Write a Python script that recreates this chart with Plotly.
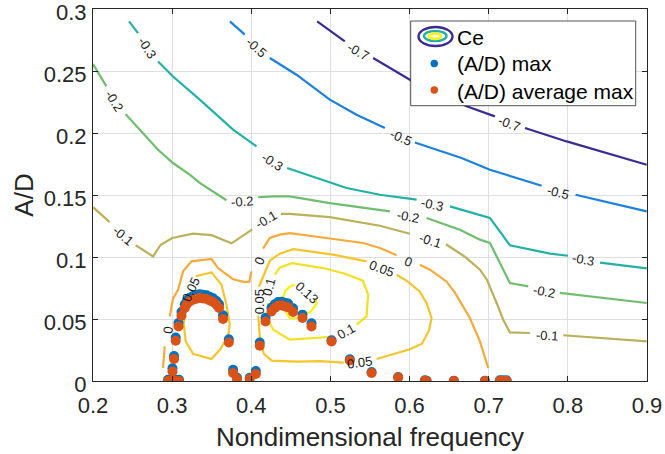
import plotly.graph_objects as go

# ---------------- data ----------------
x_ticks = [0.2, 0.3, 0.4, 0.5, 0.6, 0.7, 0.8, 0.9]
x_tick_labels = ["0.2", "0.3", "0.4", "0.5", "0.6", "0.7", "0.8", "0.9"]
y_ticks = [0, 0.05, 0.1, 0.15, 0.2, 0.25, 0.3]
y_tick_labels = ["0", "0.05", "0.1", "0.15", "0.2", "0.25", "0.3"]

# Ce contour lines (None = gap where the inline label sits)
ce_m07_x = [0.4832, 0.5182, None, 0.554, 0.6004, 0.672, 0.7078, None, 0.7458, 0.7985, 0.8996]
ce_m07_y = [0.29, 0.2739, None, 0.2605, 0.243, 0.2215, 0.2134, None, 0.204, 0.1932, 0.1744]

ce_m05_x = [0.373, 0.3918, None, 0.4234, 0.4571, 0.4992, 0.533, 0.5688, None, 0.6067, 0.6657, 0.7015, 0.7669, None, 0.8097, 0.853, 0.8996]
ce_m05_y = [0.29, 0.2793, None, 0.2605, 0.247, 0.2269, 0.2148, 0.204, None, 0.1924, 0.1798, 0.1704, 0.1575, None, 0.1502, 0.1435, 0.1368]

ce_m03_x = [0.2455, 0.2569, None, 0.2822, 0.3011, 0.3349, 0.377, 0.4066, None, 0.4453, 0.4824, 0.5204, 0.5625, 0.6089, None, 0.651, 0.6889, 0.7015, 0.7268, 0.7774, 0.8001, None, 0.8406, 0.8996]
ce_m03_y = [0.29, 0.2806, None, 0.2577, 0.2456, 0.2269, 0.2027, 0.1892, None, 0.1718, 0.1637, 0.1556, 0.1502, 0.1462, None, 0.1408, 0.1341, 0.1315, 0.1095, 0.1027, 0.101, None, 0.0954, 0.0908]

ce_m02_x = [0.2, 0.217, None, 0.2413, 0.2675, 0.2822, 0.3011, 0.3222, 0.3349, 0.3686, None, 0.4086, 0.4276, 0.4487, 0.4992, 0.5751, None, 0.6215, 0.6636, 0.6889, 0.7015, 0.7268, 0.75, None, 0.7899, 0.8447, 0.8996]
ce_m02_y = [0.2556, 0.2376, None, 0.2151, 0.1973, 0.1865, 0.1758, 0.1664, 0.1597, 0.1458, None, 0.1482, 0.1489, 0.1489, 0.1435, 0.1368, None, 0.1315, 0.122, 0.114, 0.1113, 0.079, 0.0763, None, 0.071, 0.0669, 0.0629]

ce_m01_x = [0.2, 0.2211, None, 0.254, 0.2759, 0.2856, 0.3001, 0.3264, 0.3497, 0.375, 0.4013, None, 0.4373, 0.4487, 0.4992, 0.5625, 0.6004, None, 0.6459, 0.6699, 0.6889, 0.6977, 0.7104, 0.7183, 0.7268, 0.752, None, 0.7942, 0.8447, 0.8996]
ce_m01_y = [0.1402, 0.1281, None, 0.1095, 0.1005, 0.1099, 0.1153, 0.1188, 0.1176, 0.111, 0.1223, None, 0.1348, 0.1347, 0.1321, 0.1252, 0.1188, None, 0.1103, 0.1002, 0.0898, 0.0817, 0.0623, 0.0494, 0.0392, 0.0387, None, 0.0369, 0.0347, 0.0319]

ce_0_x = [0.2885, 0.2906, None, 0.297, 0.3011, 0.3075, 0.3138, 0.3244, 0.3497, 0.358, 0.3686, 0.377, 0.3918, 0.3975, 0.4002, None, 0.4149, 0.4234, 0.436, 0.4487, 0.4992, 0.5413, 0.5625, 0.5836, None, 0.613, 0.6257, 0.6468, 0.6573, 0.6762, 0.6889, 0.6994]
ce_0_y = [0.0105, 0.0279, None, 0.0521, 0.0664, 0.0736, 0.0884, 0.0965, 0.0984, 0.0911, 0.0857, 0.0821, 0.0797, 0.0801, 0.0884, None, 0.1067, 0.1153, 0.118, 0.1192, 0.1149, 0.1113, 0.1073, 0.1015, None, 0.0938, 0.0898, 0.0801, 0.0712, 0.0508, 0.0319, 0.0105]

ce_005a_x = [0.3298, 0.3497, 0.3623, 0.3686, 0.3728, 0.3707, 0.3602, 0.3497, 0.3264, 0.3172, 0.3147, 0.3159, 0.3197]
ce_005a_y = [0.0845, 0.0876, 0.0777, 0.0615, 0.0462, 0.036, 0.0252, 0.0177, 0.022, 0.0317, 0.0454, 0.0575, 0.0672]

ce_005b_x = [0.4096, 0.4129, 0.4184, 0.4234, 0.436, 0.4528, 0.5034, 0.5456, None, 0.5836, 0.5979, 0.613, 0.6219, 0.6278, 0.6244, 0.6156, 0.6004, 0.5583, None, 0.5169, 0.4866, 0.4571, 0.4259, 0.4158, 0.4107, 0.4089]
ce_005b_y = [0.076, 0.0809, 0.0881, 0.097, 0.1027, 0.1063, 0.1019, 0.0965, None, 0.0857, 0.0801, 0.072, 0.0623, 0.0506, 0.0406, 0.0301, 0.0256, 0.0177, None, 0.0148, 0.016, 0.0156, 0.0164, 0.022, 0.0357, 0.0527]

ce_01_x = [0.4297, 0.436, 0.4512, 0.4908, 0.5182, 0.541, 0.5477, 0.5456, 0.533, None, 0.503, 0.4781, 0.4487, 0.4276, 0.4215, 0.4215]
ce_01_y = [0.0857, 0.0914, 0.095, 0.0911, 0.0865, 0.0809, 0.0696, 0.0521, 0.0454, None, 0.0357, 0.0345, 0.0333, 0.0414, 0.0494, 0.0631]

ce_013_x = [0.4809, 0.4824, 0.4752, 0.4613, 0.4487, 0.4392, 0.4402, 0.443, 0.4487, 0.455]
ce_013_y = [0.0664, 0.0623, 0.0559, 0.051, 0.0505, 0.0607, 0.0669, 0.0728, 0.076, 0.0777]

# inline contour labels
label_text = ["-0.7", "-0.7", "-0.5", "-0.5", "-0.5", "-0.3", "-0.3", "-0.3", "-0.3",
              "-0.2", "-0.2", "-0.2", "-0.2", "-0.1", "-0.1", "-0.1", "-0.1",
              "0", "0", "0", "0.05", "0.05", "0.05", "0.05", "0.1", "0.1", "0.13"]
label_x = [0.5348, 0.7256, 0.4063, 0.589, 0.7875, 0.268, 0.4259, 0.6288, 0.8191,
           0.2262, 0.3886, 0.5979, 0.7698, 0.2377, 0.419, 0.6257, 0.7732,
           0.2948, 0.4108, 0.5982, 0.3235, 0.4097, 0.5646, 0.5372, 0.4228, 0.5195, 0.4698]
label_y = [0.2656, 0.2075, 0.2688, 0.1966, 0.1523, 0.2688, 0.1767, 0.1424, 0.0978,
           0.226, 0.145, 0.1329, 0.072, 0.1172, 0.1301, 0.1131, 0.0365,
           0.0407, 0.097, 0.0965, 0.074, 0.0642, 0.0906, 0.0153, 0.076, 0.04, 0.071]
label_angle = [30, 20, 42, 24, 14, 57, 32, 12, 10,
               58, -4, 10, 10, 40, -30, 18, 3,
               -85, -70, 20, -65, -90, 20, -8, -75, -30, 42]

# (A/D) max and (A/D) average max
ad_avg_x = [0.2948, 0.3004, 0.3054, 0.3087, 0.3004, 0.3024, 0.3045, 0.308, 0.3118,
            0.316, 0.3188, 0.3222, 0.3264, 0.3307, 0.3349, 0.3391, 0.3434, 0.3475, 0.3517, 0.356, 0.3593,
            0.3643, 0.3716, 0.377, 0.382, 0.398, 0.4057, 0.4107, 0.418,
            0.4255, 0.4297, 0.4339, 0.4382, 0.4424, 0.4465, 0.4528, 0.4647, 0.4761,
            0.5014, 0.5245, 0.552, 0.5856, 0.6193, 0.6215, 0.656, 0.6952, 0.714, 0.718, 0.7226]
ad_avg_y = [0.0, 0.001, 0.0, 0.0, 0.0077, 0.0177, 0.0325, 0.044, 0.0527,
            0.0589, 0.0621, 0.0642, 0.0656, 0.0664, 0.0669, 0.0666, 0.0661, 0.065, 0.0637, 0.0615, 0.0589,
            0.05, 0.0311, 0.0065, 0.0016, 0.0016, 0.0056, 0.0285, 0.048,
            0.0561, 0.0589, 0.0607, 0.061, 0.0602, 0.0594, 0.0556, 0.0508, 0.044,
            0.0319, 0.0166, 0.0065, 0.0029, 0.0003, 0.0, 0.0, 0.0, 0.0, 0.0, 0.0]
ad_max_x = ad_avg_x
ad_max_y = [0.001, 0.002, 0.001, 0.001, 0.0102, 0.0202, 0.035, 0.0468, 0.0557,
            0.0619, 0.0651, 0.0672, 0.0686, 0.0694, 0.0699, 0.0696, 0.0691, 0.068, 0.0667, 0.0645, 0.0619,
            0.053, 0.0336, 0.009, 0.0026, 0.0026, 0.0081, 0.031, 0.051,
            0.0591, 0.0619, 0.0637, 0.064, 0.0632, 0.0624, 0.0586, 0.0535, 0.0465,
            0.0329, 0.0176, 0.0072, 0.0032, 0.0006, 0.0003, 0.0003, 0.0003, 0.0006, 0.0006, 0.0006]

# ---------------- figure ----------------
FONT = "Liberation Sans, Arial, Helvetica, sans-serif"
contours = [
    (ce_m07_x, ce_m07_y, "#3a2c94"),
    (ce_m05_x, ce_m05_y, "#1b80de"),
    (ce_m03_x, ce_m03_y, "#22b1a6"),
    (ce_m02_x, ce_m02_y, "#6fbe6e"),
    (ce_m01_x, ce_m01_y, "#bbb15a"),
    (ce_0_x, ce_0_y, "#f6aa3a"),
    (ce_005a_x, ce_005a_y, "#f5c52b"),
    (ce_005b_x, ce_005b_y, "#f5c52b"),
    (ce_01_x, ce_01_y, "#f2e024"),
    (ce_013_x, ce_013_y, "#f7f30f"),
]

fig = go.Figure()
for i, (cx, cy, col) in enumerate(contours):
    fig.add_trace(go.Scatter(x=cx, y=cy, mode="lines", name="Ce", legendgroup="Ce",
                             showlegend=False, connectgaps=False,
                             line=dict(color=col, width=2.2), hoverinfo="skip"))

fig.add_trace(go.Scatter(x=ad_max_x, y=ad_max_y, mode="markers", name="(A/D) max",
                         showlegend=False,
                         marker=dict(symbol="circle", size=10, color="#0072bd", line=dict(width=0))))
fig.add_trace(go.Scatter(x=ad_avg_x, y=ad_avg_y, mode="markers", name="(A/D) average max",
                         showlegend=False,
                         marker=dict(symbol="circle", size=10, color="#d95319", line=dict(width=0))))

for t, lx, ly, ang in zip(label_text, label_x, label_y, label_angle):
    fig.add_annotation(x=lx, y=ly, text=t, textangle=ang, showarrow=False,
                       font=dict(family=FONT, size=13, color="#1a1a1a"))

# ---- manual legend (MATLAB style) ----
L, T, W, H = 93.0, 9.0, 554.0, 372.0
def px(x):
    return (x - L) / W
def py(y):
    return (T + H - y) / H

shapes = []
shapes.append(dict(type="rect", xref="paper", yref="paper",
                   x0=px(410.7), x1=px(635.7), y0=py(105.7), y1=py(21),
                   fillcolor="white", line=dict(color="#262626", width=0.8), layer="above"))
for (x0, x1, y0, y1, col) in [(418.5, 452.5, 27, 46, "#3a2c94"),
                              (424, 446.5, 31, 41, "#22b1a6"),
                              (429, 441, 33.5, 39, "#f7f30f")]:
    shapes.append(dict(type="circle", xref="paper", yref="paper",
                       x0=px(x0), x1=px(x1), y0=py(y1), y1=py(y0),
                       line=dict(color=col, width=2.4), layer="above"))
for (cy, col) in [(63.5, "#0072bd"), (90, "#d95319")]:
    shapes.append(dict(type="circle", xref="paper", yref="paper",
                       x0=px(430.5), x1=px(438), y0=py(cy + 3.7), y1=py(cy - 3.7),
                       fillcolor=col, line=dict(color=col, width=0), layer="above"))
fig.update_layout(shapes=shapes)

for (txt, ty) in [("Ce", 37.5), ("(A/D) max", 64), ("(A/D) average max", 91.5)]:
    fig.add_annotation(xref="paper", yref="paper", x=px(455), y=py(ty), text=txt,
                       showarrow=False, xanchor="left", yanchor="middle",
                       font=dict(family=FONT, size=21, color="#000000"))

axis_common = dict(showline=True, linecolor="#262626", linewidth=1, mirror="ticks",
                   ticks="inside", ticklen=5, tickcolor="#262626",
                   showgrid=True, gridcolor="#dfdfdf", gridwidth=1, zeroline=False,
                   ticklabeloverflow="allow",
                   tickfont=dict(family=FONT, size=22, color="#262626"))

fig.update_xaxes(range=[0.2, 0.9], tickvals=x_ticks, ticktext=x_tick_labels,
                 ticklabelstandoff=5,
                 title=dict(text="Nondimensional frequency", standoff=10,
                            font=dict(family=FONT, size=26, color="#262626")),
                 **axis_common)
fig.update_yaxes(range=[0, 0.3], tickvals=y_ticks, ticktext=y_tick_labels,
                 ticklabelstandoff=1, ticklabelshift=3,
                 title=dict(text="A/D", standoff=2,
                            font=dict(family=FONT, size=26, color="#262626")),
                 **axis_common)

fig.update_layout(width=665, height=454,
                  margin=dict(l=93, r=18, t=9, b=73, autoexpand=False),
                  plot_bgcolor="white", paper_bgcolor="white",
                  showlegend=False, font=dict(family=FONT))

fig.write_html("out.html", config={"displayModeBar": False},
               post_script="document.body.style.margin='0px';document.body.style.overflow='hidden';")
